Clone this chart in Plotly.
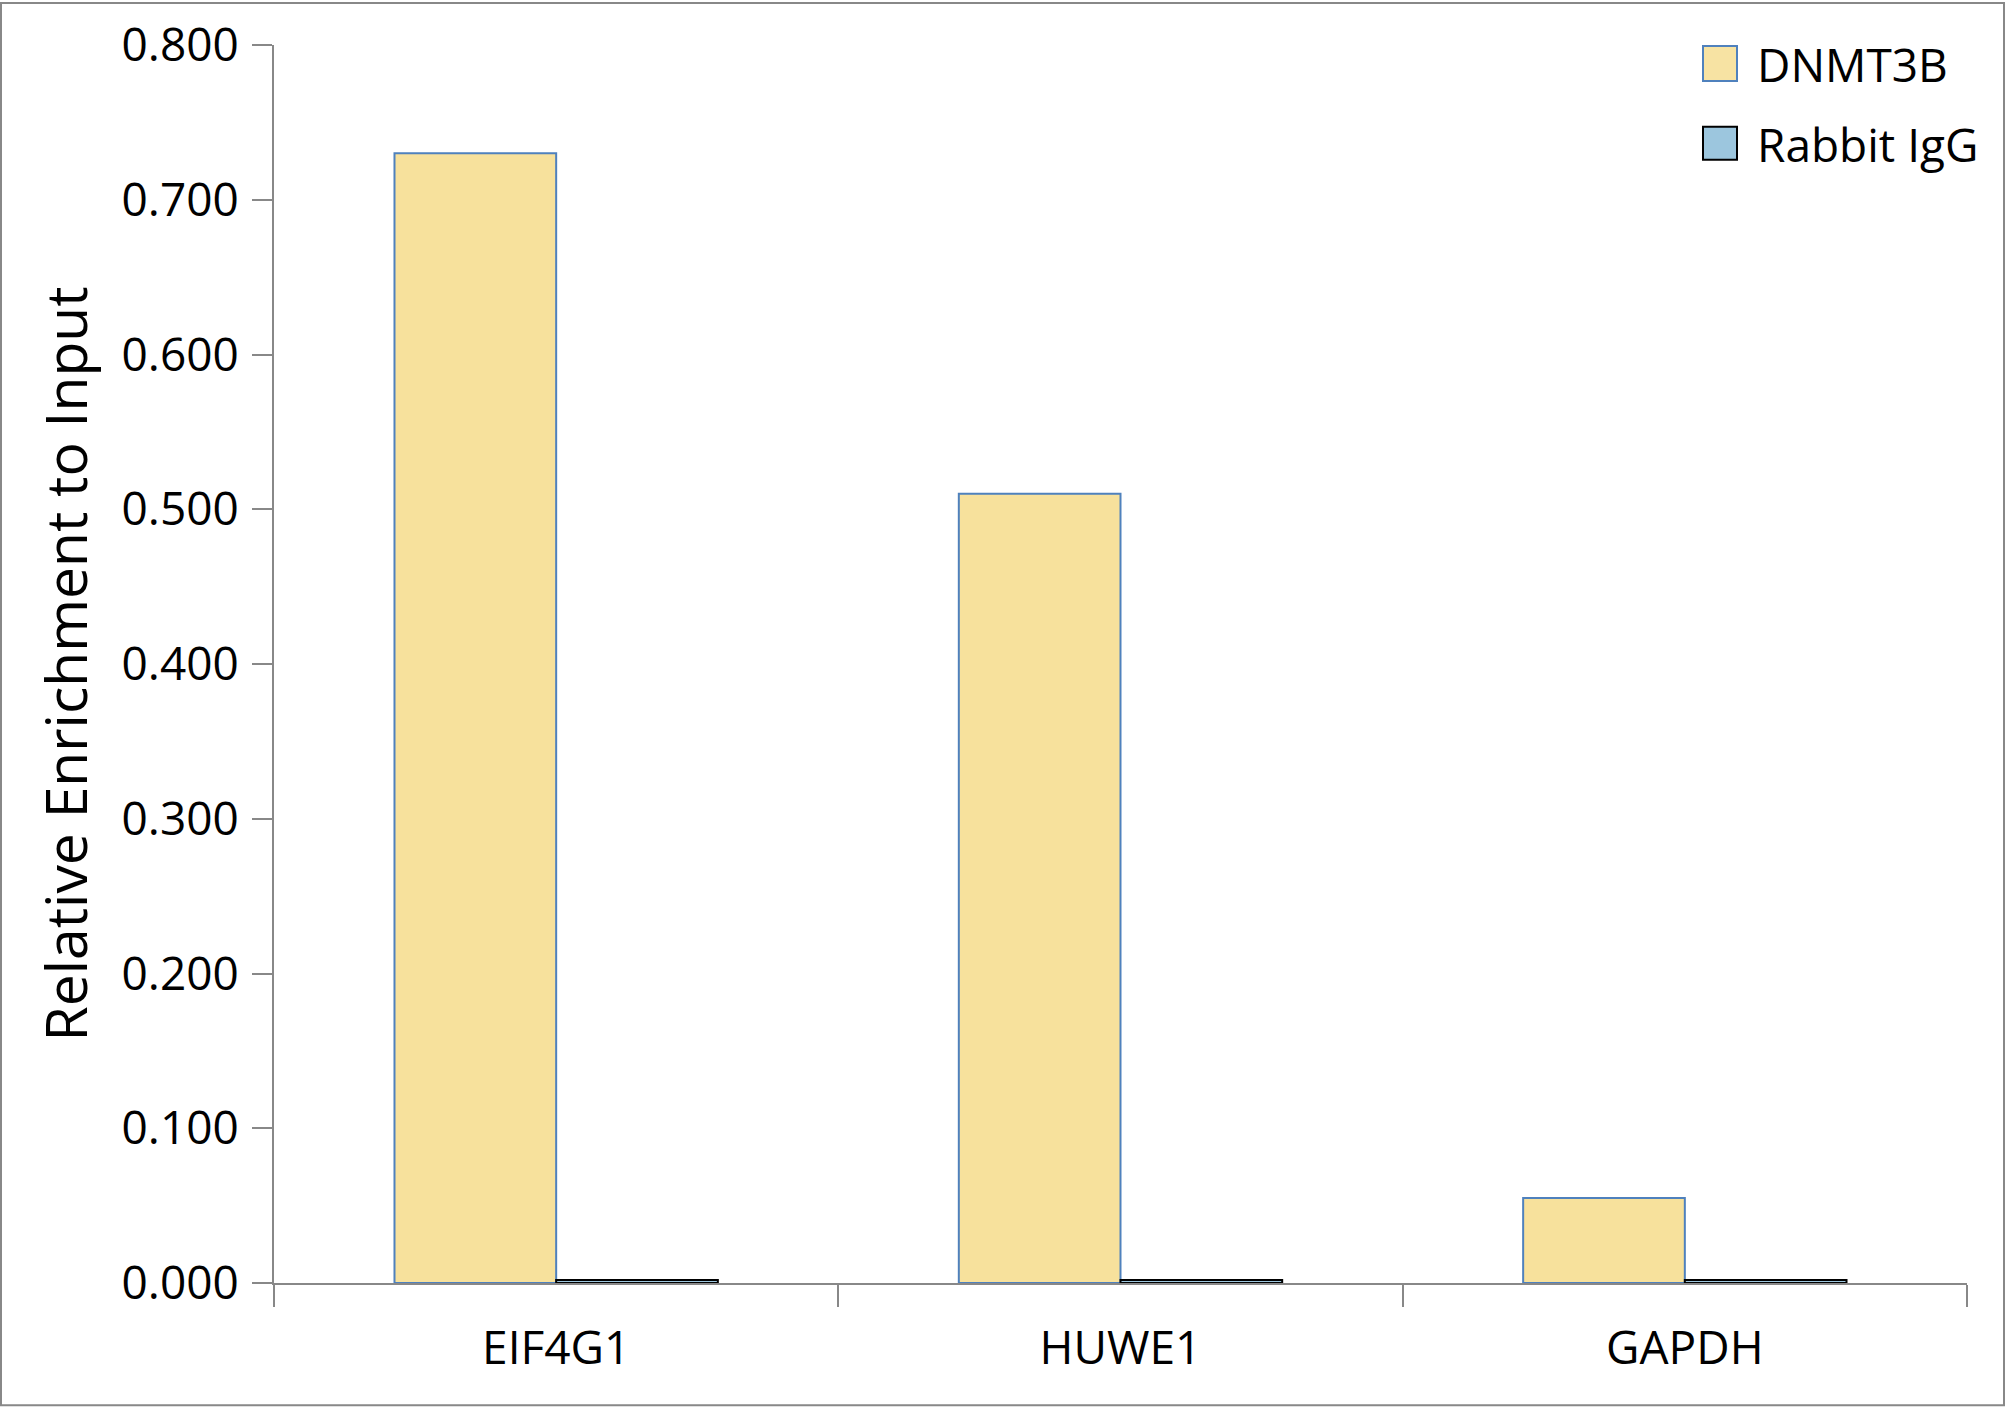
import plotly.graph_objects as go

categories = ["EIF4G1", "HUWE1", "GAPDH"]
dnmt3b_values = [0.730, 0.510, 0.055]
igg_values = [0.002, 0.002, 0.002]
series_names = ["DNMT3B", "Rabbit IgG"]
y_tick_values = [0.0, 0.1, 0.2, 0.3, 0.4, 0.5, 0.6, 0.7, 0.8]
y_tick_labels = ["0.000", "0.100", "0.200", "0.300", "0.400", "0.500", "0.600", "0.700", "0.800"]

W, H = 2005, 1407
L, R, T, B = 274, 38, 43, 124
pw = W - L - R
ph = H - T - B

FONT = "Open Sans"
FS = 46
AXIS_COL = "#888888"

fig = go.Figure()
fig.add_trace(go.Bar(
    x=categories, y=dnmt3b_values, name=series_names[0],
    marker=dict(color="#F7E19C", line=dict(color="#4F81BD", width=2)),
    showlegend=False,
))
fig.add_trace(go.Bar(
    x=categories, y=igg_values, name=series_names[1],
    marker=dict(color="#9CC6DE", line=dict(color="#000000", width=2)),
    showlegend=False,
))

def px_x(p):
    return (p - L) / pw

def px_y(p):
    return (H - B - p) / ph

shapes = [
    dict(type="rect", xref="paper", yref="paper",
         x0=px_x(1), x1=px_x(W - 1), y0=px_y(H - 1.5), y1=px_y(1),
         line=dict(color="#888888", width=2), fillcolor="rgba(0,0,0,0)", layer="below"),
    dict(type="rect", xref="paper", yref="paper",
         x0=px_x(1703), x1=px_x(1737), y0=px_y(79), y1=px_y(44),
         line=dict(color="#4F81BD", width=2), fillcolor="#F7E3A3"),
    dict(type="rect", xref="paper", yref="paper",
         x0=px_x(1703), x1=px_x(1737), y0=px_y(158), y1=px_y(125),
         line=dict(color="#000000", width=2), fillcolor="#9CC6DE"),
]
annotations = [
    dict(text=series_names[0], xref="paper", yref="paper", x=px_x(1755), y=px_y(62),
         xanchor="left", yanchor="middle", showarrow=False,
         font=dict(family=FONT, size=FS, color="#000000")),
    dict(text=series_names[1], xref="paper", yref="paper", x=px_x(1755), y=px_y(142),
         xanchor="left", yanchor="middle", showarrow=False,
         font=dict(family=FONT, size=FS, color="#000000")),
]

fig.update_layout(
    width=W, height=H,
    margin=dict(l=L, r=R, t=T, b=B, pad=0),
    paper_bgcolor="white", plot_bgcolor="white",
    barmode="group", bargap=0.427, bargroupgap=0,
    font=dict(family=FONT, size=FS, color="#000000"),
    shapes=shapes, annotations=annotations,
    showlegend=False,
)
fig.update_xaxes(
    type="category", showline=True, linecolor=AXIS_COL, linewidth=2,
    ticks="outside", tickson="boundaries", ticklen=22, tickwidth=2, tickcolor=AXIS_COL,
    ticklabelstandoff=24,
    showgrid=False, zeroline=False,
    tickfont=dict(family=FONT, size=FS, color="#000000"),
)
fig.update_yaxes(
    range=[0, 0.8], showline=True, linecolor=AXIS_COL, linewidth=2,
    ticks="outside", ticklen=20, tickwidth=2, tickcolor=AXIS_COL,
    ticklabelstandoff=4,
    tickvals=y_tick_values, ticktext=y_tick_labels,
    showgrid=False, zeroline=False,
    tickfont=dict(family=FONT, size=FS, color="#000000"),
    title=dict(text="Relative Enrichment to Input", standoff=16,
               font=dict(family=FONT, size=57, color="#000000")),
)

fig.write_html("out.html", config={"displayModeBar": False},
               post_script="document.body.style.margin='0';document.body.style.padding='0';")
